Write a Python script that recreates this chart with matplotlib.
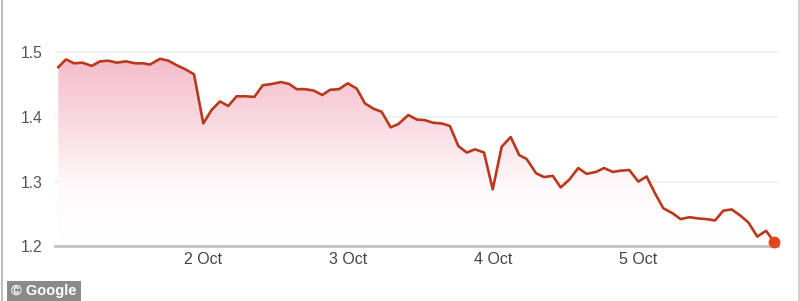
import matplotlib
matplotlib.use("Agg")
import matplotlib.pyplot as plt
import numpy as np
from matplotlib.colors import LinearSegmentedColormap
from matplotlib.patches import Rectangle
from matplotlib.lines import Line2D

# Day of October (fractional) and value
days = [1.002, 1.055, 1.110, 1.168, 1.232, 1.290, 1.347, 1.405, 1.469, 1.531,
        1.588, 1.634, 1.703, 1.761, 1.819, 1.876, 1.938, 2.002, 2.060, 2.117,
        2.174, 2.232, 2.290, 2.354, 2.412, 2.474, 2.538, 2.595, 2.646, 2.703,
        2.761, 2.823, 2.876, 2.938, 2.998, 3.060, 3.117, 3.174, 3.232, 3.294,
        3.347, 3.416, 3.474, 3.531, 3.588, 3.646, 3.703, 3.761, 3.819, 3.876,
        3.938, 3.998, 4.060, 4.122, 4.181, 4.232, 4.297, 4.352, 4.412, 4.467,
        4.526, 4.588, 4.646, 4.710, 4.766, 4.826, 4.881, 4.940, 5.002, 5.059,
        5.117, 5.174, 5.239, 5.294, 5.354, 5.416, 5.474, 5.531, 5.588, 5.646,
        5.703, 5.761, 5.823, 5.883, 5.938]
values = [1.477, 1.489, 1.483, 1.484, 1.479, 1.486, 1.487, 1.484, 1.486, 1.483,
          1.483, 1.481, 1.490, 1.487, 1.480, 1.474, 1.466, 1.390, 1.411, 1.424,
          1.417, 1.432, 1.432, 1.431, 1.449, 1.451, 1.454, 1.451, 1.443, 1.443,
          1.441, 1.434, 1.442, 1.443, 1.452, 1.444, 1.421, 1.413, 1.408, 1.384,
          1.389, 1.403, 1.396, 1.395, 1.391, 1.390, 1.386, 1.355, 1.345, 1.350,
          1.345, 1.288, 1.354, 1.369, 1.341, 1.335, 1.313, 1.307, 1.309, 1.291,
          1.303, 1.321, 1.312, 1.315, 1.321, 1.315, 1.317, 1.318, 1.300, 1.308,
          1.282, 1.259, 1.251, 1.242, 1.245, 1.243, 1.242, 1.240, 1.255, 1.257,
          1.248, 1.237, 1.215, 1.224, 1.207]

x_ticks = [2, 3, 4, 5]
x_labels = ["2 Oct", "3 Oct", "4 Oct", "5 Oct"]
y_ticks = [1.2, 1.3, 1.4, 1.5]
y_labels = ["1.2", "1.3", "1.4", "1.5"]

plt.rcParams['font.family'] = ['Liberation Sans', 'DejaVu Sans']

W, H = 800, 301
fig = plt.figure(figsize=(W / 100, H / 100), dpi=100)
ax_l, ax_r, ax_t, ax_b = 55, 778, 20, 246.3
ax = fig.add_axes([ax_l / W, 1 - ax_b / H, (ax_r - ax_l) / W, (ax_b - ax_t) / H])

xmin = 1 + (ax_l - 58) / 145
xmax = 1 + (ax_r - 58) / 145
ymin = 1.2
ymax = 1.5 + (52.3 - ax_t) / 646.7
ax.set_xlim(xmin, xmax)
ax.set_ylim(ymin, ymax)

# gridlines
for yv in y_ticks[1:]:
    ax.axhline(yv, color='#eeeeee', lw=1.2, zorder=1)

# gradient fill
cmap = LinearSegmentedColormap.from_list(
    'pk', [(0.0, '#ffffff'), (0.3, '#fefafb'), (0.6, '#fadde4'), (1.0, '#f4b9c7')])
grad = np.linspace(0, 1, 256).reshape(-1, 1)
poly = ax.fill_between(days, values, ymin, color='none', lw=0)
img = ax.imshow(grad, aspect='auto', cmap=cmap, origin='lower',
                extent=[days[0], days[-1], 1.2, 1.5], zorder=2)
img.set_clip_path(poly.get_paths()[0], transform=ax.transData)

ax.plot(days, values, color='#b9391c', lw=1.9, zorder=4, solid_joinstyle='round')
ax.plot([days[-1]], [values[-1]], 'o', color='#e4461c', ms=7.5, zorder=5,
        mec='#e4461c', clip_on=False)

for s in ['top', 'right', 'left']:
    ax.spines[s].set_visible(False)
ax.spines['bottom'].set_color('#c2c2c2')
ax.spines['bottom'].set_linewidth(2)
ax.spines['bottom'].set_zorder(3)

ax.set_xticks(x_ticks)
ax.set_xticklabels(x_labels)
ax.set_yticks(y_ticks)
ax.set_yticklabels(y_labels)
ax.tick_params(axis='x', length=4, width=1, color='#aaaaaa', pad=4,
               labelsize=11.5, labelcolor='#444444', direction='in')
ax.tick_params(axis='y', length=0, pad=9, labelsize=11.3, labelcolor='#555555')
ax.set_facecolor('white')

# image border lines
fig.add_artist(Line2D([1.5 / W, 1.5 / W], [0, 1], color='#bdbdbd', lw=1.5))
fig.add_artist(Line2D([1 - 1.5 / W, 1 - 1.5 / W], [0, 1], color='#d0d0d0', lw=1.5))

# Google badge
fig.add_artist(Rectangle((7 / W, 0), 74 / W, 20 / H, transform=fig.transFigure,
                         facecolor='#8a8a8a', edgecolor='none'))
fig.text(44 / W, 10 / H, "© Google", color='white', fontsize=10.5,
         fontweight='bold', ha='center', va='center')

fig.savefig("out.png", dpi=100)
